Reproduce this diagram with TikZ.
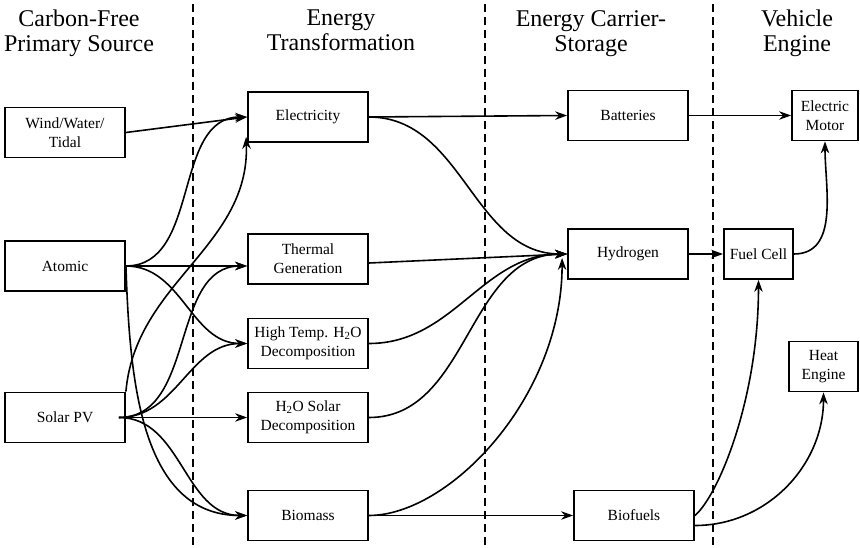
\documentclass[tikz,border=0pt]{standalone}
\usepackage{fontspec}
\setmainfont{Liberation Serif}
\usetikzlibrary{arrows.meta,calc}
\begin{document}
\begin{tikzpicture}[x=1pt,y=1pt,
  box/.style={draw, line width=1.8pt, inner sep=1pt, align=center,
    font=\fontsize{15.5}{19}\selectfont, minimum width=120pt, minimum height=50pt},
  head/.style={anchor=north, align=center, inner sep=0pt,
    font=\fontsize{24}{25}\selectfont},
  link/.style={line width=1.6pt, -{Stealth[length=12pt,width=8.5pt,inset=4pt]}},
  divider/.style={line width=1.6pt, dash pattern=on 8pt off 5pt}]
\useasboundingbox (0,0) rectangle (860,-548);

% column headings
\node[head] (h1) at (79,-10)  {Carbon-Free\\Primary Source};
\node[head] (h2) at (341,-10) {Energy\\Transformation};
\node[head] (h3) at (591,-10) {Energy Carrier-\\Storage};
\node[head] (h4) at (797,-10) {Vehicle\\Engine};

% column dividers
\draw[divider] (193,-4) -- (193,-548);
\draw[divider] (485,-4) -- (485,-548);
\draw[divider] (713,-4) -- (713,-548);

% primary sources
\node[box] (wind)  at (65,-132.5) {Wind/Water/\\Tidal};
\node[box] (atom)  at (65,-266)   {Atomic};
\node[box] (solar) at (65,-417.5) {Solar PV};

% transformations
\node[box] (elec)  at (308,-117)   {Electricity};
\node[box] (therm) at (308,-259)   {Thermal\\Generation};
\node[box] (htemp) at (308,-343.5) {High Temp. H\textsubscript{2}O\\Decomposition};
\node[box] (h2os)  at (308,-417.5) {H\textsubscript{2}O Solar\\Decomposition};
\node[box] (biom)  at (308,-515.5) {Biomass};

% carriers and storage
\node[box] (batt) at (628,-115.5) {Batteries};
\node[box] (hyd)  at (628,-254)   {Hydrogen};
\node[box] (biof) at (634,-515.5) {Biofuels};

% vehicle engines
\node[box, minimum width=66pt] (emot) at (825,-115.5)   {Electric\\Motor};
\node[box, minimum width=69pt] (fuel) at (758.5,-254)   {Fuel Cell};
\node[box, minimum width=69pt] (heat) at (823.5,-366.5) {Heat\\Engine};

% helper points
\coordinate (thin) at (atom.east -| therm.west);
\coordinate (sfan) at ($(solar.east)+(-7,0)$);

% sources to transformations
\draw[link] (wind.east) -- (elec.west);
\draw[link] (atom.east) to[out=0,in=180] (elec.west);
\draw[link] (atom.east) -- (thin);
\draw[link] (atom.east) to[out=0,in=180] (htemp.west);
\draw[link] (atom.east) to[out=-88,in=180] (biom.west);
\draw[link] (solar.north east) to[out=85,in=-88] ($(elec.south west)+(-1,6)$);
\draw[link] (sfan) to[out=0,in=180] (thin);
\draw[link] (sfan) to[out=0,in=180] (htemp.west);
\draw[link] (sfan) -- (h2os.west);
\draw[link] (sfan) to[out=0,in=180] (biom.west);

% transformations to carriers
\draw[link] (elec.east) -- (batt.west);
\draw[link] (elec.east) to[out=0,in=180] (hyd.west);
\draw[link] ($(therm.east)+(0,-4)$) -- (hyd.west);
\draw[link] (htemp.east) to[out=0,in=180] (hyd.west);
\draw[link] (h2os.east) to[out=0,in=180] (hyd.west);
\draw[link] (biom.east) .. controls +(80,0) and +(0,-140) .. ($(hyd.west)+(-5,-4)$);
\draw[link] (biom.east) -- (biof.west);

% carriers to engines
\draw[link] (batt.east) -- (emot.west);
\draw[link] (hyd.east) -- (fuel.west);
\draw[link] (fuel.east) to[out=0,in=-90] (emot.south);
\draw[link] (biof.east) .. controls +(40:30) and +(0,-120) .. (fuel.south);
\draw[link] ($(biof.east)+(0,-10)$) to[out=0,in=-90] (heat.south);
\end{tikzpicture}
\end{document}
